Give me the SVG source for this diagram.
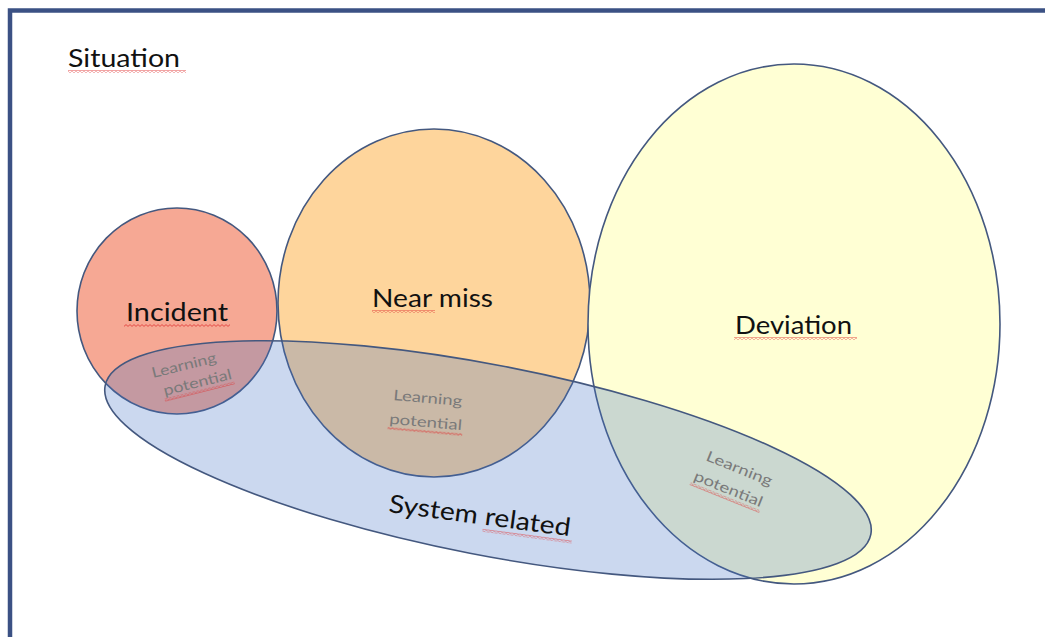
<svg xmlns="http://www.w3.org/2000/svg" width="1045" height="637" viewBox="0 0 1045 637">
<defs>
<pattern id="squig" width="4" height="3" patternUnits="userSpaceOnUse">
<path d="M0 2.4 L2 0.6 L4 2.4" fill="none" stroke="#e03030" stroke-width="0.8"/>
</pattern>
<style>
.set{stroke:#44587f;stroke-width:1.6}
.lbl{font-family:Lato,"Liberation Sans",sans-serif;font-size:25px;fill:#111}
.lp{font-family:Lato,"Liberation Sans",sans-serif;font-size:14.5px;fill:#7a7a7a}
.sq{fill:url(#squig)}
</style>
</defs>
<rect width="1045" height="637" fill="#ffffff"/>
<g id="frame">
<path d="M10 637 V10.5 H1045" fill="none" stroke="#3b5184" stroke-width="4.5"/>
</g>
<g id="title">
<text class="lbl" x="68" y="67" textLength="112" lengthAdjust="spacingAndGlyphs">Situation</text>
<rect class="sq" x="68" y="70" width="118" height="3"/>
</g>
<g id="node-incident">
<ellipse class="set" cx="177" cy="311" rx="100" ry="103" fill="#F6A894"/>
<text class="lbl" x="126" y="321" textLength="102" lengthAdjust="spacingAndGlyphs">Incident</text>
<rect class="sq" x="124" y="324" width="106" height="3"/>
</g>
<g id="node-near-miss">
<ellipse class="set" cx="434" cy="303" rx="156" ry="174" fill="#FED59C"/>
<text class="lbl" x="372" y="307" textLength="121" lengthAdjust="spacingAndGlyphs">Near miss</text>
<rect class="sq" x="372" y="310" width="63" height="3"/>
</g>
<g id="node-deviation">
<ellipse class="set" cx="794" cy="324" rx="206" ry="260" fill="#FFFFD4"/>
<text class="lbl" x="735" y="334" textLength="117" lengthAdjust="spacingAndGlyphs">Deviation</text>
<rect class="sq" x="734" y="337" width="123" height="3"/>
</g>
<g id="node-system-related">
<ellipse class="set" cx="488" cy="460" rx="390" ry="95" transform="rotate(11 488 460)" fill="#4472C4" fill-opacity="0.28"/>
<g transform="translate(388 512) rotate(7.6)">
<text class="lbl" x="0" y="0" textLength="183" lengthAdjust="spacingAndGlyphs">System related</text>
<rect class="sq" x="96" y="4" width="90" height="3"/>
</g>
</g>
<g id="overlap-labels">
<g transform="translate(153 378) rotate(-14)">
<text class="lp" x="0" y="0" textLength="66" lengthAdjust="spacingAndGlyphs">Learning</text>
<text class="lp" x="7" y="20" textLength="70" lengthAdjust="spacingAndGlyphs">potential</text>
<rect class="sq" x="6" y="23" width="72" height="3"/>
</g>
<g transform="translate(393 400) rotate(5)">
<text class="lp" x="0" y="0" textLength="69" lengthAdjust="spacingAndGlyphs">Learning</text>
<text class="lp" x="-2" y="24" textLength="73" lengthAdjust="spacingAndGlyphs">potential</text>
<rect class="sq" x="-3" y="27" width="75" height="3"/>
</g>
<g transform="translate(705 460) rotate(22)">
<text class="lp" x="0" y="0" textLength="70" lengthAdjust="spacingAndGlyphs">Learning</text>
<text class="lp" x="-4" y="23" textLength="73" lengthAdjust="spacingAndGlyphs">potential</text>
<rect class="sq" x="-5" y="26" width="75" height="3"/>
</g>
</g>
</svg>
